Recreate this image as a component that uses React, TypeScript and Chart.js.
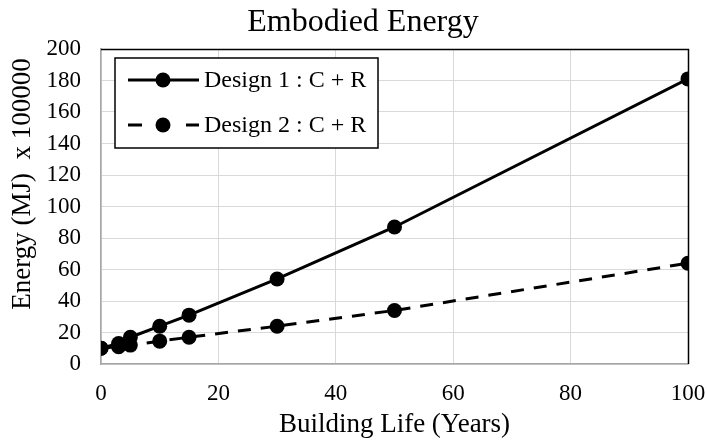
import React, { useEffect, useRef } from "react";
import { Chart, registerables } from "chart.js";

Chart.register(...registerables);

const years = [0, 3, 5, 10, 15, 30, 50, 100];
const design1 = [10, 13, 17, 24, 31, 54, 87, 181];
const design2 = [10, 11, 12, 14.5, 17, 24, 34, 64];
const seriesNames = ["Design 1 : C + R", "Design 2 : C + R"];
const chartTitle = "Embodied Energy";
const xTitle = "Building Life (Years)";
const yTitle = "Energy (MJ)  x 100000";
const FONT = "'Liberation Serif', 'Times New Roman', serif";

const framePlugin = {
  id: "frame",
  afterDraw(chart: any) {
    const { ctx, chartArea: a } = chart;
    ctx.save();
    ctx.lineWidth = 1.5;
    ctx.strokeStyle = "#000";
    ctx.beginPath();
    ctx.moveTo(a.left, a.top + 0.5);
    ctx.lineTo(a.right + 0.5, a.top + 0.5);
    ctx.lineTo(a.right + 0.5, a.bottom);
    ctx.stroke();
    // y-axis title
    ctx.fillStyle = "#000";
    ctx.font = `27px ${FONT}`;
    ctx.textAlign = "center";
    ctx.textBaseline = "middle";
    ctx.translate(23, 184);
    ctx.rotate(-Math.PI / 2);
    ctx.fillText(yTitle, 0, 0);
    ctx.restore();
  },
};

const legendPlugin = {
  id: "boxLegend",
  afterDraw(chart: any) {
    const { ctx } = chart;
    const x0 = 115, y0 = 58, w = 263, h = 90;
    ctx.save();
    ctx.fillStyle = "#fff";
    ctx.fillRect(x0, y0, w, h);
    ctx.strokeStyle = "#000";
    ctx.lineWidth = 1.5;
    ctx.strokeRect(x0, y0, w, h);
    chart.data.datasets.forEach((ds: any, i: number) => {
      const cy = y0 + 22 + i * 45;
      ctx.strokeStyle = ds.borderColor;
      ctx.lineWidth = ds.borderWidth;
      ctx.setLineDash([]);
      ctx.beginPath();
      if (ds.borderDash && ds.borderDash.length) {
        ctx.moveTo(128, cy); ctx.lineTo(142, cy);
        ctx.moveTo(186, cy); ctx.lineTo(199, cy);
      } else {
        ctx.moveTo(128, cy); ctx.lineTo(199, cy);
      }
      ctx.stroke();
      ctx.fillStyle = ds.pointBackgroundColor;
      ctx.beginPath();
      ctx.arc(163, cy, ds.pointRadius, 0, Math.PI * 2);
      ctx.fill();
      ctx.fillStyle = "#000";
      ctx.font = `24px ${FONT}`;
      ctx.textBaseline = "middle";
      ctx.textAlign = "left";
      ctx.fillText(ds.label, 204, cy + 1);
    });
    ctx.restore();
  },
};

export default function App() {
  const ref = useRef<HTMLCanvasElement>(null);
  useEffect(() => {
    document.body.style.margin = "0";
    const mk = (vals: number[]) => years.map((x, i) => ({ x, y: vals[i] }));
    const chart = new Chart(ref.current!, {
      type: "scatter",
      data: {
        datasets: [
          {
            label: seriesNames[0],
            data: mk(design1),
            showLine: true,
            borderColor: "#000",
            backgroundColor: "#000",
            pointBackgroundColor: "#000",
            pointBorderWidth: 0,
            borderWidth: 3,
            pointRadius: 7.5,
          },
          {
            label: seriesNames[1],
            data: mk(design2),
            showLine: true,
            borderColor: "#000",
            backgroundColor: "#000",
            pointBackgroundColor: "#000",
            pointBorderWidth: 0,
            borderWidth: 3,
            borderDash: [13, 10],
            pointRadius: 7.5,
          },
        ],
      },
      options: {
        responsive: false,
        animation: false,
        layout: { padding: { left: 38, right: 19, top: 0, bottom: 0 } },
        plugins: {
          legend: { display: false },
          tooltip: { enabled: false },
          title: {
            display: true,
            text: chartTitle,
            color: "#000",
            font: { family: FONT, size: 32, weight: "normal" },
            padding: { top: 3, bottom: 7.6 },
          },
        },
        scales: {
          x: {
            type: "linear",
            min: 0,
            max: 100,
            afterFit(s: any) { s.height = 77; s.paddingRight = 0; s.paddingLeft = 0; },
            ticks: { stepSize: 20, color: "#000", font: { family: FONT, size: 23 }, padding: 16 },
            grid: { color: "#d9d9d9", lineWidth: 1, drawTicks: false },
            border: { color: "#a6a6a6", width: 1.5 },
            title: {
              display: true,
              text: xTitle,
              color: "#000",
              font: { family: FONT, size: 27 },
              padding: { top: 0, bottom: 0 },
            },
          },
          y: {
            min: 0,
            max: 200,
            afterFit(s: any) { s.width = 63; },
            ticks: { stepSize: 20, color: "#000", font: { family: FONT, size: 23 }, padding: 20 },
            grid: { color: "#d9d9d9", lineWidth: 1, drawTicks: false },
            border: { color: "#a6a6a6", width: 1.5 },
          },
        },
      },
      plugins: [framePlugin, legendPlugin],
    });
    return () => chart.destroy();
  }, []);
  return <canvas ref={ref} width={707} height={441} />;
}
